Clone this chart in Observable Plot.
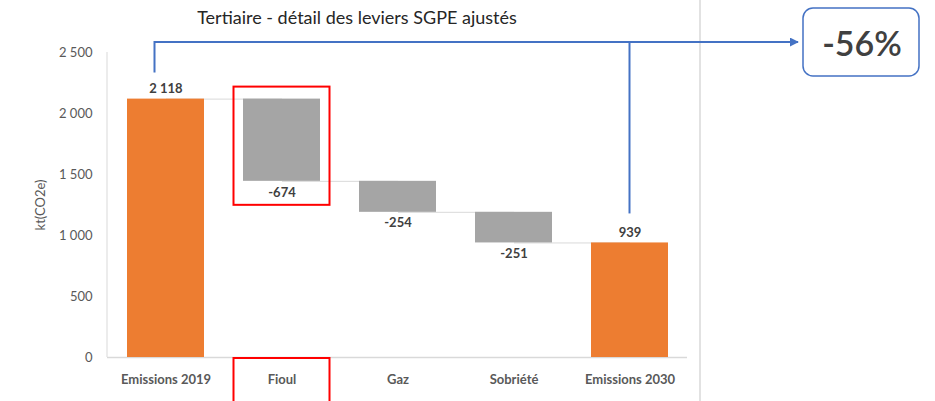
<!DOCTYPE html>
<html><head><meta charset="utf-8">
<script src="https://cdn.jsdelivr.net/npm/d3@7"></script>
<script src="https://cdn.jsdelivr.net/npm/@observablehq/plot@0.6"></script>
<style>
html,body{margin:0;padding:0;background:#fff;}
#chart{width:935px;height:401px;overflow:hidden;}
</style></head>
<body><div id="chart"></div>
<script>
const categories = ["Emissions 2019", "Fioul", "Gaz", "Sobriété", "Emissions 2030"];
const values = [2118, -674, -254, -251, 939];
const kinds = ["total", "delta", "delta", "delta", "total"];
const yTicks = [0, 500, 1000, 1500, 2000, 2500];
const title = "Tertiaire - détail des leviers SGPE ajustés";
const yLabel = "kt(CO2e)";

// build waterfall table
let run = 0;
const rows = categories.map((c, i) => {
  let y1, y2;
  if (kinds[i] === "total") { y1 = 0; y2 = values[i]; run = values[i]; }
  else { y1 = run; y2 = run + values[i]; run = y2; }
  return {cat: c, v: values[i], kind: kinds[i], y1, y2, top: Math.max(y1, y2), bottom: Math.min(y1, y2)};
});
const links = rows.slice(0, -1).map((r, i) => ({a: r.cat, b: rows[i + 1].cat, level: r.y2}));
const fmt = v => (v < 0 ? "-" : "") + d3.format(",")(Math.abs(v)).replace(/,/g, " ");
const FONT = "Lato, 'Open Sans', sans-serif";

const plot = Plot.plot({
  width: 935, height: 401,
  marginLeft: 107, marginRight: 248, marginTop: 52, marginBottom: 44,
  style: {fontFamily: FONT, fontSize: "13px", color: "#595959", background: "#fff"},
  x: {domain: categories, paddingInner: 0.34, paddingOuter: 0.155, label: null, tickSize: 0, tickPadding: 17},
  y: {domain: [0, 2500], ticks: yTicks, tickFormat: fmt, tickSize: 0, tickPadding: 15,
      label: yLabel, labelAnchor: "center", labelArrow: "none", labelOffset: 72},
  marks: [
    Plot.ruleY([0], {stroke: "#d9d9d9", strokeWidth: 1.5}),
    Plot.link(links, {x1: "a", x2: "b", y1: "level", y2: "level", stroke: "#d9d9d9", strokeWidth: 1}),
    Plot.barY(rows, {x: "cat", y1: "y1", y2: "y2", fill: d => d.kind === "total" ? "#ED7D31" : "#A5A5A5"}),
    Plot.text(rows.filter(d => d.kind === "total"), {x: "cat", y: "top", text: d => fmt(d.v), dy: -10, fill: "#404040", fontWeight: "bold", fontSize: 13}),
    Plot.text(rows.filter(d => d.kind === "delta"), {x: "cat", y: "bottom", text: d => fmt(d.v), dy: 11, fill: "#404040", fontWeight: "bold", fontSize: 13})
  ]
});

const svg = d3.select(plot);
svg.selectAll("g[aria-label='x-axis tick label'] text").attr("font-weight", "bold").attr("fill", "#595959");
svg.selectAll("g[aria-label='y-axis tick label'] text").attr("fill", "#595959");
svg.selectAll("g[aria-label='y-axis label'] text").attr("fill", "#595959").attr("font-size", 13);

const xs = plot.scale("x"), ys = plot.scale("y");
const bw = xs.bandwidth;
const cx = c => xs.apply(c) + bw / 2;

// left axis line
svg.insert("line", ":first-child").attr("x1", 107).attr("x2", 107)
  .attr("y1", ys.apply(2500)).attr("y2", ys.apply(0))
  .attr("stroke", "#d9d9d9").attr("stroke-width", 1);

// title
svg.append("text").attr("x", 357).attr("y", 24).attr("text-anchor", "middle")
  .attr("font-family", FONT).attr("font-size", 18).attr("fill", "#262626").text(title);

// right separator
svg.append("line").attr("x1", 700).attr("x2", 700).attr("y1", 0).attr("y2", 401)
  .attr("stroke", "#d9d9d9").attr("stroke-width", 1.5);

// blue annotation
const blue = "#4472C4";
const defs = svg.append("defs");
defs.append("marker").attr("id", "arr").attr("viewBox", "0 0 10 10").attr("refX", 9).attr("refY", 5)
  .attr("markerWidth", 4.5).attr("markerHeight", 4.5).attr("orient", "auto")
  .append("path").attr("d", "M0,0L10,5L0,10z").attr("fill", blue);
const topY = 42;
const xA = cx(categories[0]) - 11;
const xB = cx(categories[4]);
svg.append("path").attr("fill", "none").attr("stroke", blue).attr("stroke-width", 2)
  .attr("d", `M${xA},${ys.apply(rows[0].top) - 26}V${topY}H${798}`).attr("marker-end", "url(#arr)");
svg.append("path").attr("fill", "none").attr("stroke", blue).attr("stroke-width", 2)
  .attr("d", `M${xB},${ys.apply(rows[4].top) - 29}V${topY}`);

const pct = Math.round((values[4] - values[0]) / values[0] * 100);
svg.append("rect").attr("x", 803).attr("y", 8).attr("width", 116).attr("height", 68).attr("rx", 10)
  .attr("fill", "#fff").attr("stroke", blue).attr("stroke-width", 1.5);
svg.append("text").attr("x", 862).attr("y", 44).attr("dy", "0.35em").attr("text-anchor", "middle")
  .attr("font-family", FONT).attr("font-size", 34).attr("font-weight", 600).attr("fill", "#404040").text(pct + "%");

// red highlight boxes around Fioul
const fx = cx("Fioul");
svg.append("rect").attr("x", fx - 48).attr("y", ys.apply(rows[1].top) - 12).attr("width", 96)
  .attr("height", ys.apply(rows[1].bottom) - ys.apply(rows[1].top) + 36)
  .attr("fill", "none").attr("stroke", "#FF0000").attr("stroke-width", 2);
svg.append("rect").attr("x", fx - 48).attr("y", ys.apply(0) + 1).attr("width", 96).attr("height", 60)
  .attr("fill", "none").attr("stroke", "#FF0000").attr("stroke-width", 2);

document.getElementById("chart").appendChild(plot);
</script></body></html>
